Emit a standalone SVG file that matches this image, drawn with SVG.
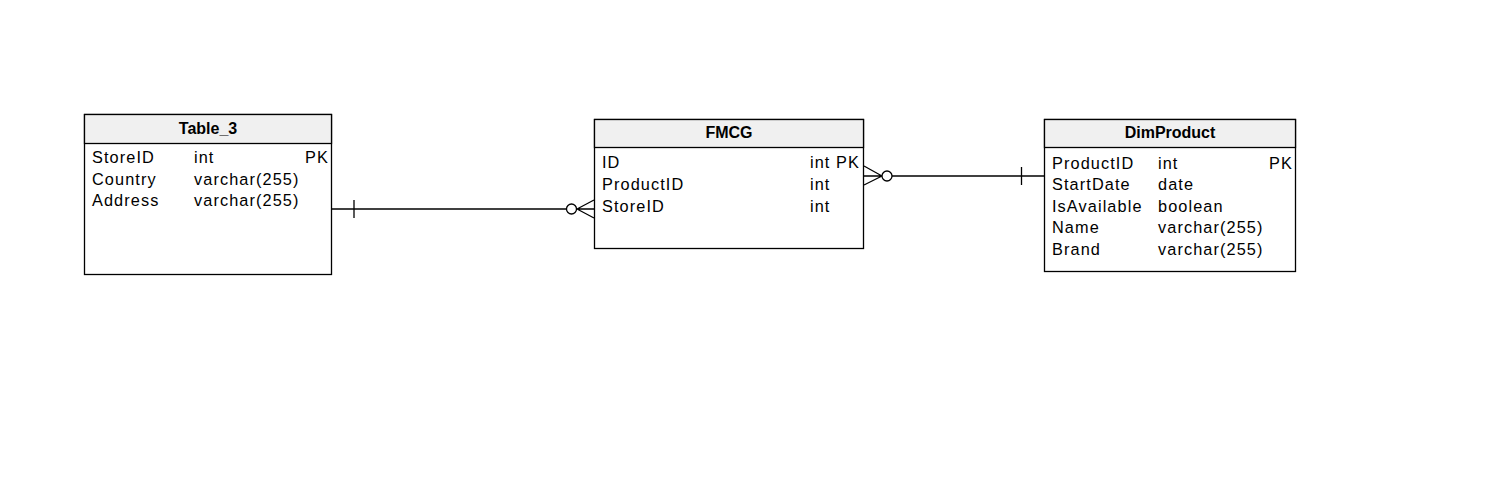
<svg xmlns="http://www.w3.org/2000/svg" width="1509" height="481" viewBox="0 0 1509 481">
<style>
.box{fill:#fff;stroke:#000;stroke-width:1.3}
.hdr{fill:#f0f0f0;stroke:#000;stroke-width:1.3}
.t{font-family:"Liberation Sans",Arial,sans-serif;font-size:16.3px;fill:#000;letter-spacing:1.1px}
.title{font-family:"Liberation Sans",Arial,sans-serif;font-size:16px;font-weight:bold;fill:#000;text-anchor:middle}
.r{text-anchor:end}
.ln{fill:none;stroke:#000;stroke-width:1.3}
.circ{fill:#fff;stroke:#000;stroke-width:1.3}
</style>
<rect width="1509" height="481" fill="#fff"/>
<g id="connectors">
  <g id="c1">
    <line class="ln" x1="331" y1="209" x2="566" y2="209"/>
    <line class="ln" x1="354" y1="200" x2="354" y2="218"/>
    <path class="ln" d="M577,209 L594,200 M577,209 L594,209 M577,209 L594,218"/>
    <circle class="circ" cx="571.5" cy="209" r="5"/>
  </g>
  <g id="c2">
    <line class="ln" x1="892" y1="176" x2="1044" y2="176"/>
    <line class="ln" x1="1021.5" y1="167" x2="1021.5" y2="185"/>
    <path class="ln" d="M882,176 L864,166 M882,176 L864,176 M882,176 L864,185"/>
    <circle class="circ" cx="887" cy="176" r="5"/>
  </g>
</g>
<g id="Table_3">
  <rect class="box" x="84.5" y="114.5" width="247" height="160"/>
  <rect class="hdr" x="84.5" y="114.5" width="247" height="29"/>
  <text class="title" x="208" y="134">Table_3</text>
  <text class="t" x="92" y="163">StoreID</text>
  <text class="t" x="194" y="163">int</text>
  <text class="t r" x="329" y="163">PK</text>
  <text class="t" x="92" y="185">Country</text>
  <text class="t" x="194" y="185">varchar(255)</text>
  <text class="t" x="92" y="206">Address</text>
  <text class="t" x="194" y="206">varchar(255)</text>
</g>
<g id="FMCG">
  <rect class="box" x="594.5" y="119.5" width="269" height="129"/>
  <rect class="hdr" x="594.5" y="119.5" width="269" height="28"/>
  <text class="title" x="729" y="138">FMCG</text>
  <text class="t" x="602" y="168">ID</text>
  <text class="t" x="810" y="168">int PK</text>
  <text class="t" x="602" y="190">ProductID</text>
  <text class="t" x="810" y="190">int</text>
  <text class="t" x="602" y="212">StoreID</text>
  <text class="t" x="810" y="212">int</text>
</g>
<g id="DimProduct">
  <rect class="box" x="1044.5" y="119.5" width="251" height="152"/>
  <rect class="hdr" x="1044.5" y="119.5" width="251" height="28"/>
  <text class="title" x="1170" y="138">DimProduct</text>
  <text class="t" x="1052" y="169">ProductID</text>
  <text class="t" x="1158" y="169">int</text>
  <text class="t r" x="1293" y="169">PK</text>
  <text class="t" x="1052" y="190">StartDate</text>
  <text class="t" x="1158" y="190">date</text>
  <text class="t" x="1052" y="212">IsAvailable</text>
  <text class="t" x="1158" y="212">boolean</text>
  <text class="t" x="1052" y="233">Name</text>
  <text class="t" x="1158" y="233">varchar(255)</text>
  <text class="t" x="1052" y="255">Brand</text>
  <text class="t" x="1158" y="255">varchar(255)</text>
</g>
</svg>
